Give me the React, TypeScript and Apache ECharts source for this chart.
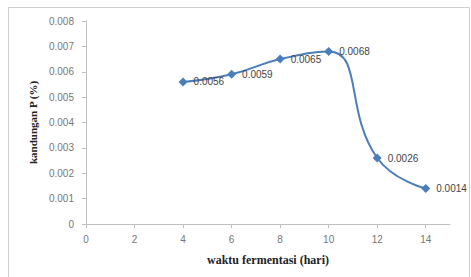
import React, { useEffect, useRef } from "react";
import * as echarts from "echarts";

const days = [4, 6, 8, 10, 12, 14];
const phosphorus = [0.0056, 0.0059, 0.0065, 0.0068, 0.0026, 0.0014];
const xTicks = [0, 2, 4, 6, 8, 10, 12, 14];

export default function App() {
  const ref = useRef<HTMLDivElement>(null);
  useEffect(() => {
    if (!ref.current) return;
    const chart = echarts.init(ref.current, null, { renderer: "svg" });
    chart.setOption({
      animation: false,
      backgroundColor: "#ffffff",
      graphic: [
        {
          type: "rect",
          shape: { x: 8.5, y: 7.5, width: 461, height: 280 },
          style: { fill: "none", stroke: "#cfcfcf", lineWidth: 1 },
          silent: true,
        },
      ],
      grid: { left: 86, right: 21, top: 21, bottom: 53 },
      xAxis: {
        type: "value",
        min: 0,
        max: 15,
        interval: 2,
        name: "waktu fermentasi (hari)",
        nameLocation: "middle",
        nameGap: 30,
        nameTextStyle: {
          fontFamily: "Liberation Serif",
          fontWeight: "bold",
          fontSize: 12,
          color: "#222",
        },
        axisLine: { show: true, lineStyle: { color: "#bfbfbf", width: 1 } },
        axisTick: { show: true, inside: false, length: 4, lineStyle: { color: "#bfbfbf" }, customValues: xTicks },
        axisLabel: {
          customValues: xTicks,
          color: "#777",
          fontFamily: "Liberation Sans",
          fontSize: 10,
          margin: 10,
        },
        splitLine: { show: false },
      },
      yAxis: {
        type: "value",
        min: 0,
        max: 0.008,
        interval: 0.001,
        name: "kandungan P (%)",
        nameLocation: "middle",
        nameGap: 46,
        nameTextStyle: {
          fontFamily: "Liberation Serif",
          fontWeight: "bold",
          fontSize: 11,
          color: "#222",
        },
        axisLine: { show: true, lineStyle: { color: "#bfbfbf", width: 1 } },
        axisTick: { show: true, inside: false, length: 4, lineStyle: { color: "#bfbfbf" } },
        axisLabel: {
          color: "#777",
          fontFamily: "Liberation Sans",
          fontSize: 10,
          margin: 12,
          formatter: (v: number) => (v === 0 ? "0" : v.toFixed(3)),
        },
        splitLine: { show: false },
      },
      series: [
        {
          type: "line",
          data: days.map((d, i) => [d, phosphorus[i]]),
          smooth: 0.5,
          symbol: "diamond",
          symbolSize: 9,
          lineStyle: { color: "#4a7ebb", width: 2 },
          itemStyle: { color: "#4a7ebb" },
          label: {
            show: true,
            position: "right",
            distance: 6,
            color: "#444",
            fontFamily: "Liberation Sans",
            fontSize: 10,
            formatter: (p: any) => p.value[1].toFixed(4),
          },
        },
      ],
    });
    return () => chart.dispose();
  }, []);
  return (
    <div
      ref={ref}
      style={{ position: "fixed", left: 0, top: 0, width: 471, height: 277 }}
    />
  );
}
